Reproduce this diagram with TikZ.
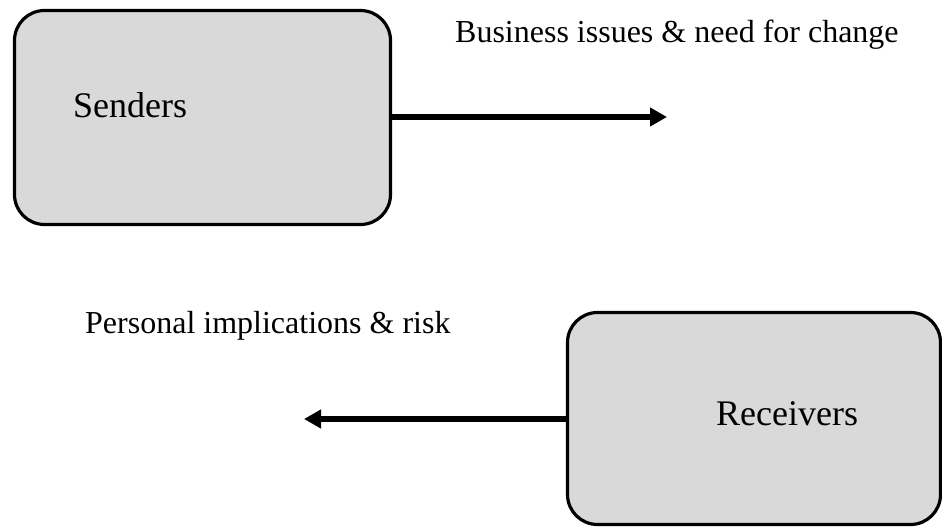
\documentclass[tikz,border=0pt]{standalone}
\usepackage{fontspec}
\setmainfont{Liberation Serif}
\usetikzlibrary{arrows.meta}
\definecolor{boxgray}{HTML}{D9D9D9}
\tikzset{
  box/.style={draw=black, fill=boxgray, line width=3.2pt, rounded corners=30pt,
    minimum width=376pt, minimum height=214pt, inner sep=0pt},
  boxtext/.style={font=\fontsize{36}{40}\selectfont, inner sep=0pt, anchor=base west},
  lbl/.style={font=\fontsize{32}{36}\selectfont, inner sep=0pt, anchor=base west},
  flow/.style={line width=5.5pt, -{Triangle[length=17pt,width=18pt]}}
}
\begin{document}
\begin{tikzpicture}[x=1pt,y=-1pt]
\useasboundingbox (0,0) rectangle (942,527);
\clip (0,0) rectangle (942,527);
\node[box] (senders) at (202.5,117.5) {};
\node[box, minimum width=373pt, minimum height=212pt] (receivers) at (754,418.5) {};
\node[boxtext] (st) at (73,117) {Senders};
\node[boxtext] (rt) at (716,425) {Receivers};
\node[lbl] (l1) at (455,43) {Business issues \& need for change};
\node[lbl] (l2) at (85,333) {Personal implications \& risk};
\coordinate (e1) at (667,117);
\coordinate (e2) at (304,419);
\draw[flow] (senders.east |- e1) -- (e1);
\draw[flow] (receivers.west |- e2) -- (e2);
\end{tikzpicture}
\end{document}
